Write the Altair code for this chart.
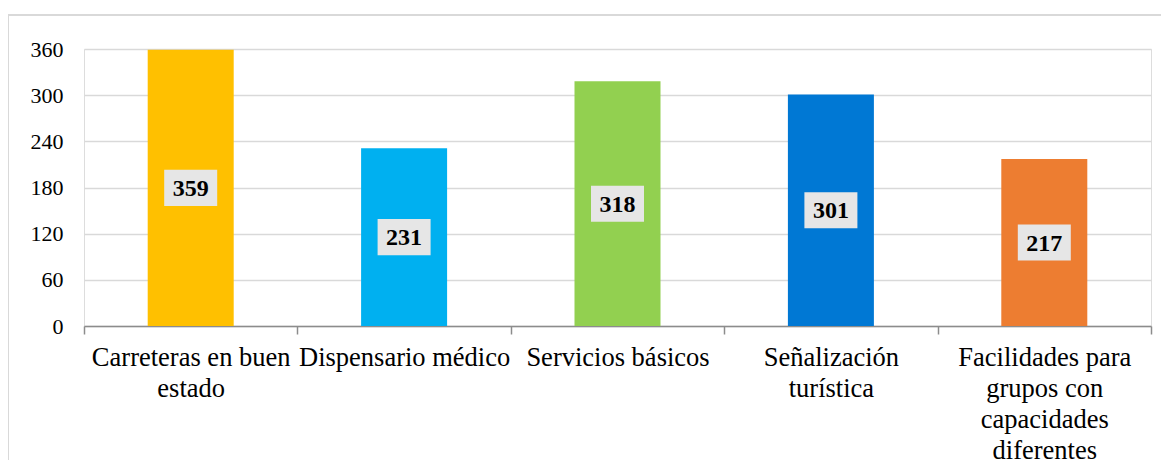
import altair as alt
import pandas as pd

categories = [
    "Carreteras en buen|estado",
    "Dispensario médico",
    "Servicios básicos",
    "Señalización|turística",
    "Facilidades para|grupos con|capacidades|diferentes",
]
values = [359, 231, 318, 301, 217]
colors = ["#FFC000", "#00B0F0", "#92D050", "#0078D4", "#ED7D31"]
y_ticks = [0, 60, 120, 180, 240, 300, 360]

df = pd.DataFrame({"cat": categories, "val": values, "color": colors})
df["half"] = df["val"] / 2

FONT = "Liberation Serif"

x_enc = alt.X(
    "cat:N",
    sort=categories,
    scale=alt.Scale(paddingInner=0, paddingOuter=0),
    axis=alt.Axis(
        title=None,
        labelAngle=0,
        labelExpr="isString(datum.value) ? split(datum.value, '|') : ''",
        labelFontSize=26.5,
        labelLineHeight=31,
        labelPadding=10,
        labelBaseline="top",
        labelLimit=300,
        tickBand="extent",
        tickSize=8,
        grid=False,
    ),
)

y_scale = alt.Scale(domain=[0, 360], nice=False)
y_axis = alt.Axis(
    title=None,
    values=y_ticks,
    labelFontSize=22,
    labelPadding=21,
    ticks=False,
    domain=False,
    grid=True,
)

bars = alt.Chart(df).mark_bar(width=86).encode(
    x=x_enc,
    y=alt.Y("val:Q", scale=y_scale, axis=y_axis),
    color=alt.Color("color:N", scale=None),
)

box_shape = "M-1,-0.68H1V0.68H-1Z"
boxes = alt.Chart(df).mark_point(
    shape=box_shape, filled=True, size=2809, color="#E6E6E6", opacity=1
).encode(
    x=x_enc,
    y=alt.Y("half:Q", scale=y_scale, axis=y_axis),
)

labels = alt.Chart(df).mark_text(
    font=FONT, fontSize=24, fontWeight="bold", color="#000000", baseline="middle", dy=1
).encode(
    x=x_enc,
    y=alt.Y("half:Q", scale=y_scale, axis=y_axis),
    text=alt.Text("val:Q"),
)

border = alt.Chart(df).mark_rect(
    fill=None, stroke="#D9D9D9", strokeWidth=1.5
).encode(
    x=alt.value(-76), x2=alt.value(1079), y=alt.value(-34), y2=alt.value(520)
)

chart = (
    alt.layer(border, bars, boxes, labels)
    .properties(
        width=1067,
        height=277,
        padding={"left": 76, "top": 41, "right": 10, "bottom": 134},
        autosize=alt.AutoSizeParams(type="none"),
    )
    .configure_view(stroke=None)
    .configure(background="#FFFFFF")
    .configure_axis(
        labelFont=FONT,
        labelColor="#000000",
        gridColor="#D9D9D9",
        gridWidth=1.5,
        tickColor="#8C8C8C",
        tickWidth=1.5,
        domainColor="#8C8C8C",
        domainWidth=1.5,
    )
)

chart.save("out.html", embed_options={"renderer": "svg", "actions": False})
